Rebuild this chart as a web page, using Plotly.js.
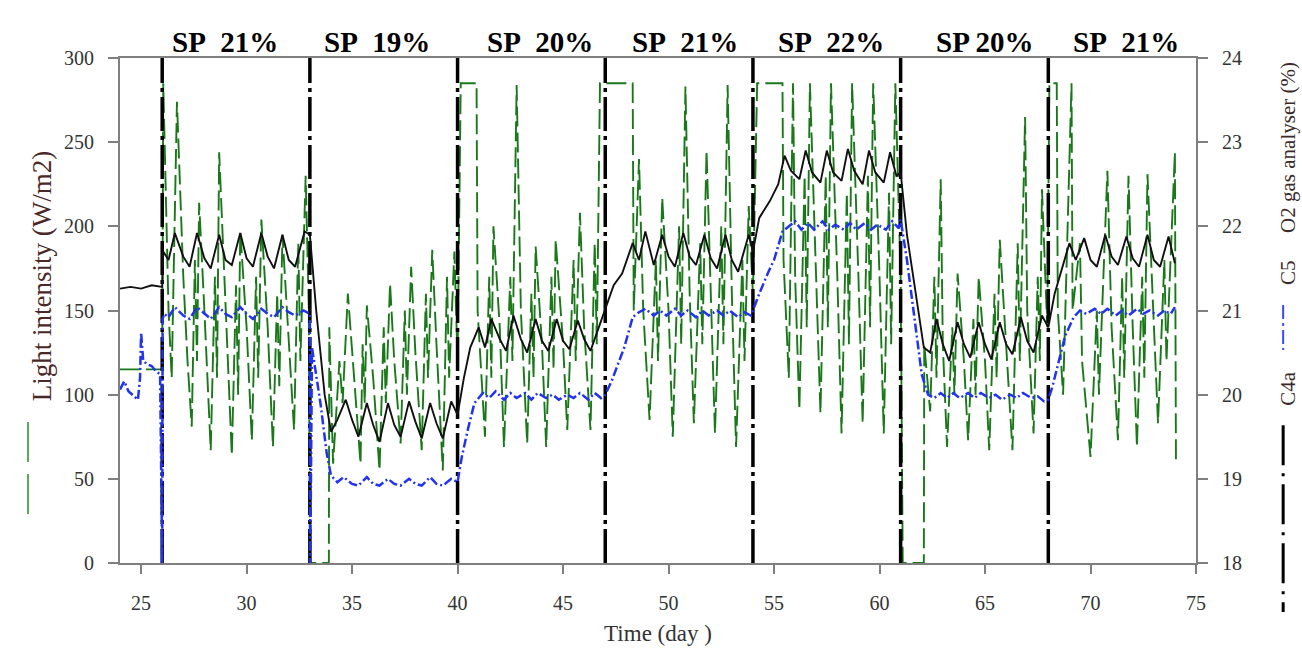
<!DOCTYPE html>
<html>
<head>
<meta charset="utf-8">
<script src="https://cdn.plot.ly/plotly-3.0.1.min.js"></script>
<style>html,body{margin:0;padding:0;background:#fff;}#chart{width:1302px;height:655px;}</style>
</head>
<body>
<div id="chart"></div>
<script>
// Light intensity (W/m2), green dashed, left axis
const lightDay = [
  24.0,26.0,26.05,
  26.3,26.45,26.7,27.0,27.2,27.4,27.55,27.65,27.75,28.0,28.3,28.5,28.6,28.7,29.0,29.3,29.5,29.6,29.7,30.0,30.25,30.45,30.55,30.7,31.0,31.25,31.45,31.55,31.7,32.0,32.25,32.45,32.55,32.8,32.95,
  33.0,33.9,33.92,34.1,34.4,34.55,34.8,35.1,35.4,35.5,35.6,35.7,36.0,36.3,36.5,36.6,36.8,37.0,37.3,37.5,37.6,37.8,38.0,38.3,38.5,38.6,38.8,39.0,39.3,39.5,39.6,39.85,40.0,
  40.15,40.9,40.95,41.3,41.5,41.6,41.7,42.0,42.2,42.5,42.6,42.8,43.0,43.3,43.5,43.6,43.7,44.0,44.2,44.45,44.55,44.65,45.0,45.2,45.5,45.6,45.8,46.0,46.3,46.5,46.6,
  46.75,47.05,48.3,48.35,48.6,48.8,49.1,49.4,49.5,49.7,50.0,50.2,50.5,50.6,50.8,51.0,51.2,51.5,51.6,51.8,52.0,52.2,52.5,52.6,52.8,53.0,53.2,53.5,53.6,53.8,
  54.0,54.2,55.4,55.45,55.7,55.9,56.0,56.2,56.45,56.55,56.7,57.0,57.2,57.45,57.55,57.7,58.0,58.2,58.45,58.55,58.7,59.0,59.2,59.45,59.55,59.7,60.0,60.2,60.45,60.55,60.75,61.0,
  61.1,62.1,62.12,62.4,62.6,62.7,62.9,63.0,63.2,63.45,63.55,63.7,64.0,64.2,64.45,64.55,64.7,65.0,65.2,65.45,65.55,65.7,66.0,66.3,66.55,66.65,66.9,67.0,67.3,67.5,67.6,67.7,67.95,
  68.05,68.4,68.45,68.7,69.1,69.15,69.5,69.6,70.0,70.3,70.4,70.8,71.0,71.3,71.5,71.6,71.8,72.0,72.2,72.45,72.55,72.7,73.0,73.2,73.5,73.6,74.0,74.05
];
const lightWm2 = [
  115,115,285,
  150,110,274,170,120,81,180,120,214,150,67,170,110,244,150,64,165,100,197,140,73,170,110,204,140,69,160,105,195,135,79,190,120,230,150,
  0,0,140,59,120,95,160,110,59,130,95,153,110,55,140,95,166,120,71,150,100,176,125,67,160,110,186,130,55,170,110,185,120,
  285,285,150,75,170,110,200,140,69,170,120,284,150,71,160,110,188,130,69,170,115,192,130,79,180,120,208,140,79,190,130,
  285,285,285,150,240,150,85,180,120,217,150,75,200,130,283,160,83,190,130,245,160,77,200,130,284,160,69,180,120,212,
  160,285,285,180,110,285,170,91,230,140,285,170,89,230,140,285,170,77,220,130,285,170,83,230,140,285,170,77,220,130,285,170,
  0,0,130,90,170,110,228,130,69,140,100,172,120,73,145,100,170,120,67,160,110,192,130,67,190,120,265,150,77,170,120,222,140,
  285,285,150,100,285,150,190,120,63,150,100,233,140,73,170,110,230,140,69,170,110,231,140,83,180,120,244,59
];

// C4a O2 (%), black, right axis
const c4aDay = [
  24.0,24.5,25.0,25.5,26.0,
  26.05,26.3,26.6,27.0,27.3,27.65,28.0,28.3,28.7,29.0,29.3,29.7,30.0,30.3,30.7,31.0,31.3,31.7,32.0,32.3,32.75,
  33.0,33.3,33.7,34.0,34.3,34.7,35.0,35.3,35.7,36.0,36.3,36.7,37.0,37.3,37.7,38.0,38.3,38.7,39.0,39.3,39.7,
  40.0,40.3,40.6,41.0,41.3,41.6,42.0,42.3,42.65,43.0,43.3,43.7,44.0,44.3,44.7,45.0,45.3,45.7,46.0,46.3,46.7,
  47.0,47.4,47.8,48.3,48.6,48.9,49.3,49.7,50.0,50.3,50.7,51.0,51.3,51.7,52.0,52.3,52.7,53.0,53.3,53.8,
  54.0,54.3,54.8,55.2,55.5,55.8,56.2,56.5,56.8,57.2,57.5,57.8,58.2,58.5,58.8,59.2,59.5,59.8,60.2,60.5,60.8,
  61.0,61.3,61.7,62.1,62.4,62.7,63.0,63.3,63.7,64.0,64.3,64.7,65.0,65.3,65.7,66.0,66.3,66.7,67.0,67.3,67.7,
  68.0,68.3,68.7,69.0,69.3,69.7,70.0,70.3,70.7,71.0,71.3,71.7,72.0,72.3,72.7,73.0,73.3,73.7,74.0
];
const c4aO2 = [
  21.26,21.28,21.26,21.30,21.28,
  21.70,21.60,21.92,21.64,21.52,21.92,21.62,21.50,21.90,21.60,21.54,21.92,21.62,21.52,21.92,21.64,21.50,21.90,21.60,21.52,21.94,
  21.90,21.00,20.00,19.56,19.70,19.94,19.70,19.50,19.90,19.64,19.44,19.90,19.64,19.50,19.92,19.68,19.48,19.90,19.66,19.48,19.92,
  19.76,20.20,20.56,20.80,20.56,20.90,20.66,20.52,20.94,20.66,20.50,20.90,20.64,20.52,20.90,20.64,20.54,20.88,20.66,20.52,20.80,
  21.00,21.30,21.44,21.80,21.60,21.94,21.54,21.90,21.64,21.52,21.92,21.64,21.54,21.90,21.62,21.50,21.90,21.60,21.46,21.90,
  21.70,22.10,22.30,22.50,22.84,22.66,22.56,22.90,22.64,22.52,22.90,22.64,22.54,22.92,22.66,22.50,22.90,22.64,22.52,22.88,22.60,
  22.64,21.90,21.20,20.56,20.50,20.90,20.60,20.40,20.86,20.60,20.44,20.86,20.60,20.42,20.86,20.60,20.48,20.92,20.64,20.50,20.94,
  20.80,21.20,21.56,21.80,21.60,21.86,21.60,21.52,21.90,21.64,21.54,21.88,21.62,21.52,21.90,21.60,21.52,21.88,21.56
];

// C5 O2 (%), blue dash-dot, right axis
const c5Day = [
  24.0,24.2,24.4,24.6,24.85,24.95,25.0,25.1,25.3,25.5,25.7,25.9,26.0,26.02,
  26.1,26.3,26.6,27.0,27.3,27.65,28.0,28.3,28.7,29.0,29.3,29.7,30.0,30.3,30.7,31.0,31.3,31.7,32.0,32.3,32.7,33.0,
  33.02,33.1,33.5,33.8,34.0,34.3,34.6,35.0,35.3,35.7,36.0,36.3,36.7,37.0,37.3,37.7,38.0,38.3,38.7,39.0,39.3,39.7,40.0,
  40.2,40.5,40.8,41.2,41.5,41.8,42.2,42.5,42.8,43.2,43.5,43.8,44.2,44.5,44.8,45.2,45.5,45.8,46.2,46.5,46.8,47.0,
  47.3,47.6,47.9,48.3,48.6,48.9,49.3,49.6,49.9,50.3,50.6,50.9,51.3,51.6,51.9,52.3,52.6,52.9,53.3,53.6,53.9,54.0,
  54.3,54.7,55.0,55.4,55.7,56.0,56.3,56.6,56.9,57.3,57.6,57.9,58.3,58.6,58.9,59.3,59.6,59.9,60.3,60.6,60.9,61.0,
  61.3,61.6,62.0,62.3,62.6,62.9,63.2,63.5,63.8,64.2,64.5,64.8,65.2,65.5,65.8,66.2,66.5,66.8,67.2,67.5,67.8,68.0,
  68.2,68.5,68.8,69.2,69.5,69.8,70.2,70.5,70.8,71.2,71.5,71.8,72.2,72.5,72.8,73.2,73.5,73.8,74.0
];
const c5O2 = [
  20.06,20.16,20.04,20.00,19.94,20.20,20.74,20.40,20.36,20.34,20.28,20.24,18.00,20.90,
  20.96,20.92,21.04,20.94,20.90,21.04,20.96,20.90,21.04,20.96,20.92,21.04,20.96,20.90,21.02,20.96,20.92,21.04,20.98,20.94,21.00,20.96,
  18.00,20.56,19.90,19.30,19.04,18.96,19.02,18.94,18.92,19.02,18.94,18.92,19.00,18.94,18.92,19.00,18.94,18.92,19.02,18.94,18.92,19.00,18.96,
  19.26,19.60,19.90,20.02,19.96,20.04,19.94,20.02,19.96,20.02,19.94,20.02,19.96,20.00,19.94,20.00,19.96,20.02,19.94,20.02,19.96,20.00,
  20.16,20.36,20.56,20.92,20.98,21.02,20.94,21.00,20.94,21.02,20.94,21.00,20.92,21.00,20.94,21.00,20.94,21.00,20.92,20.98,20.94,21.00,
  21.20,21.44,21.60,21.94,22.00,22.06,21.96,22.04,21.96,22.06,21.96,22.02,21.96,22.04,21.96,22.04,21.96,22.02,21.96,22.06,21.98,22.08,
  21.60,21.00,20.24,20.00,19.96,20.02,19.96,20.02,19.96,20.02,19.96,20.02,19.96,20.00,19.94,20.00,19.96,20.02,19.96,19.98,19.92,19.94,
  20.10,20.40,20.70,20.92,21.00,20.96,21.02,20.96,21.02,20.94,21.00,20.94,21.02,20.96,21.00,20.94,21.00,20.96,21.04
];

// Set-point change days and labels
const spChangeDay = [26, 33, 40, 47, 54, 61, 68];
const spLabelDay = [29.0, 36.2, 43.9, 50.8, 57.7, 65.0, 71.7];
const spLabels = ["SP\u00a0 21%", "SP\u00a0 19%", "SP\u00a0 20%", "SP\u00a0 21%", "SP\u00a0 22%", "SP 20%", "SP\u00a0 21%"];
const xTicks = [25, 30, 35, 40, 45, 50, 55, 60, 65, 70, 75];

const vx = [], vy = [];
spChangeDay.forEach(d => { vx.push(d, d, null); vy.push(0, 300, null); });

const serif = "Liberation Serif, Times New Roman, serif";
const axisCol = "#7f7f7f";
const tickFont = {family: serif, size: 20, color: "#333"};

const traces = [
  {x: lightDay, y: lightWm2, type: "scatter", mode: "lines", yaxis: "y",
   line: {color: "#1a781a", width: 1.9, dash: "20px,6px"}, name: "Light intensity"},
  {x: vx, y: vy, type: "scatter", mode: "lines", yaxis: "y",
   line: {color: "#000", width: 3.5, dash: "34px,5px,4px,5px"}, name: "SP change"},
  {x: c5Day, y: c5O2, type: "scatter", mode: "lines", yaxis: "y2",
   line: {color: "#2233ee", width: 2.5, dash: "9px,3px,2px,3px"}, name: "C5"},
  {x: c4aDay, y: c4aO2, type: "scatter", mode: "lines", yaxis: "y2",
   line: {color: "#111", width: 1.9}, name: "C4a"}
];

const annotations = spLabelDay.map((d, i) => ({
  x: d, xref: "x", y: 1.032, yref: "paper", text: spLabels[i], showarrow: false,
  xanchor: "center", yanchor: "middle",
  font: {family: serif, size: 29, color: "#000", weight: "bold"}
}));
const rtFont = {family: serif, size: 21, color: "#3a2a2a"};
annotations.push(
  {x: -0.0725, xref: "paper", y: 0.568, yref: "paper", text: "Light intensity (W/m2)", textangle: -90,
   showarrow: false, xanchor: "center", yanchor: "middle", font: {family: serif, size: 27, color: "#4a2828"}},
  {x: 1.0855, xref: "paper", y: 0.824, yref: "paper", text: "O2 gas analyser (%)", textangle: -90,
   showarrow: false, xanchor: "center", yanchor: "middle", font: rtFont},
  {x: 1.0855, xref: "paper", y: 0.576, yref: "paper", text: "C5", textangle: -90,
   showarrow: false, xanchor: "center", yanchor: "middle", font: rtFont},
  {x: 1.0855, xref: "paper", y: 0.347, yref: "paper", text: "C4a", textangle: -90,
   showarrow: false, xanchor: "center", yanchor: "middle", font: rtFont}
);

const shapes = [
  {type: "line", xref: "paper", yref: "paper", x0: -0.0855, x1: -0.0855, y0: 0.279, y1: 0.095,
   line: {color: "#5aaa5a", width: 2, dash: "40px,12px"}},
  {type: "line", xref: "paper", yref: "paper", x0: 1.081, x1: 1.081, y0: 0.511, y1: 0.422,
   line: {color: "#3a4aff", width: 2, dash: "14px,4px,3px,4px"}},
  {type: "line", xref: "paper", yref: "paper", x0: 1.081, x1: 1.081, y0: 0.273, y1: -0.097,
   line: {color: "#000", width: 3, dash: "40px,8px,3px,8px"}}
];

const layout = {
  width: 1302, height: 655,
  margin: {l: 120, r: 106, t: 58, b: 92},
  paper_bgcolor: "#fff", plot_bgcolor: "#fff",
  showlegend: false,
  font: {family: serif, color: "#333"},
  xaxis: {
    range: [24, 75], tickvals: xTicks, ticks: "outside", ticklen: 9, tickwidth: 2, tickcolor: axisCol,
    showline: true, linecolor: axisCol, linewidth: 2, mirror: true, showgrid: false, zeroline: false,
    tickfont: tickFont, ticklabelstandoff: 12,
    title: {text: "Time (day )", font: {family: serif, size: 23, color: "#333"}, standoff: 12}
  },
  yaxis: {
    range: [0, 300], dtick: 50, ticks: "outside", ticklen: 10, tickwidth: 2, tickcolor: axisCol,
    showline: true, linecolor: axisCol, linewidth: 2, showgrid: false, zeroline: false,
    tickfont: tickFont, ticklabelstandoff: 10
  },
  yaxis2: {
    range: [18, 24], dtick: 1, overlaying: "y", side: "right", ticks: "outside", ticklen: 10, tickwidth: 2,
    tickcolor: axisCol, showline: true, linecolor: axisCol, linewidth: 2, showgrid: false, zeroline: false,
    tickfont: tickFont, ticklabelstandoff: 10
  },
  annotations: annotations,
  shapes: shapes
};

Plotly.newPlot("chart", traces, layout, {displayModeBar: false, staticPlot: true});
</script>
</body>
</html>
